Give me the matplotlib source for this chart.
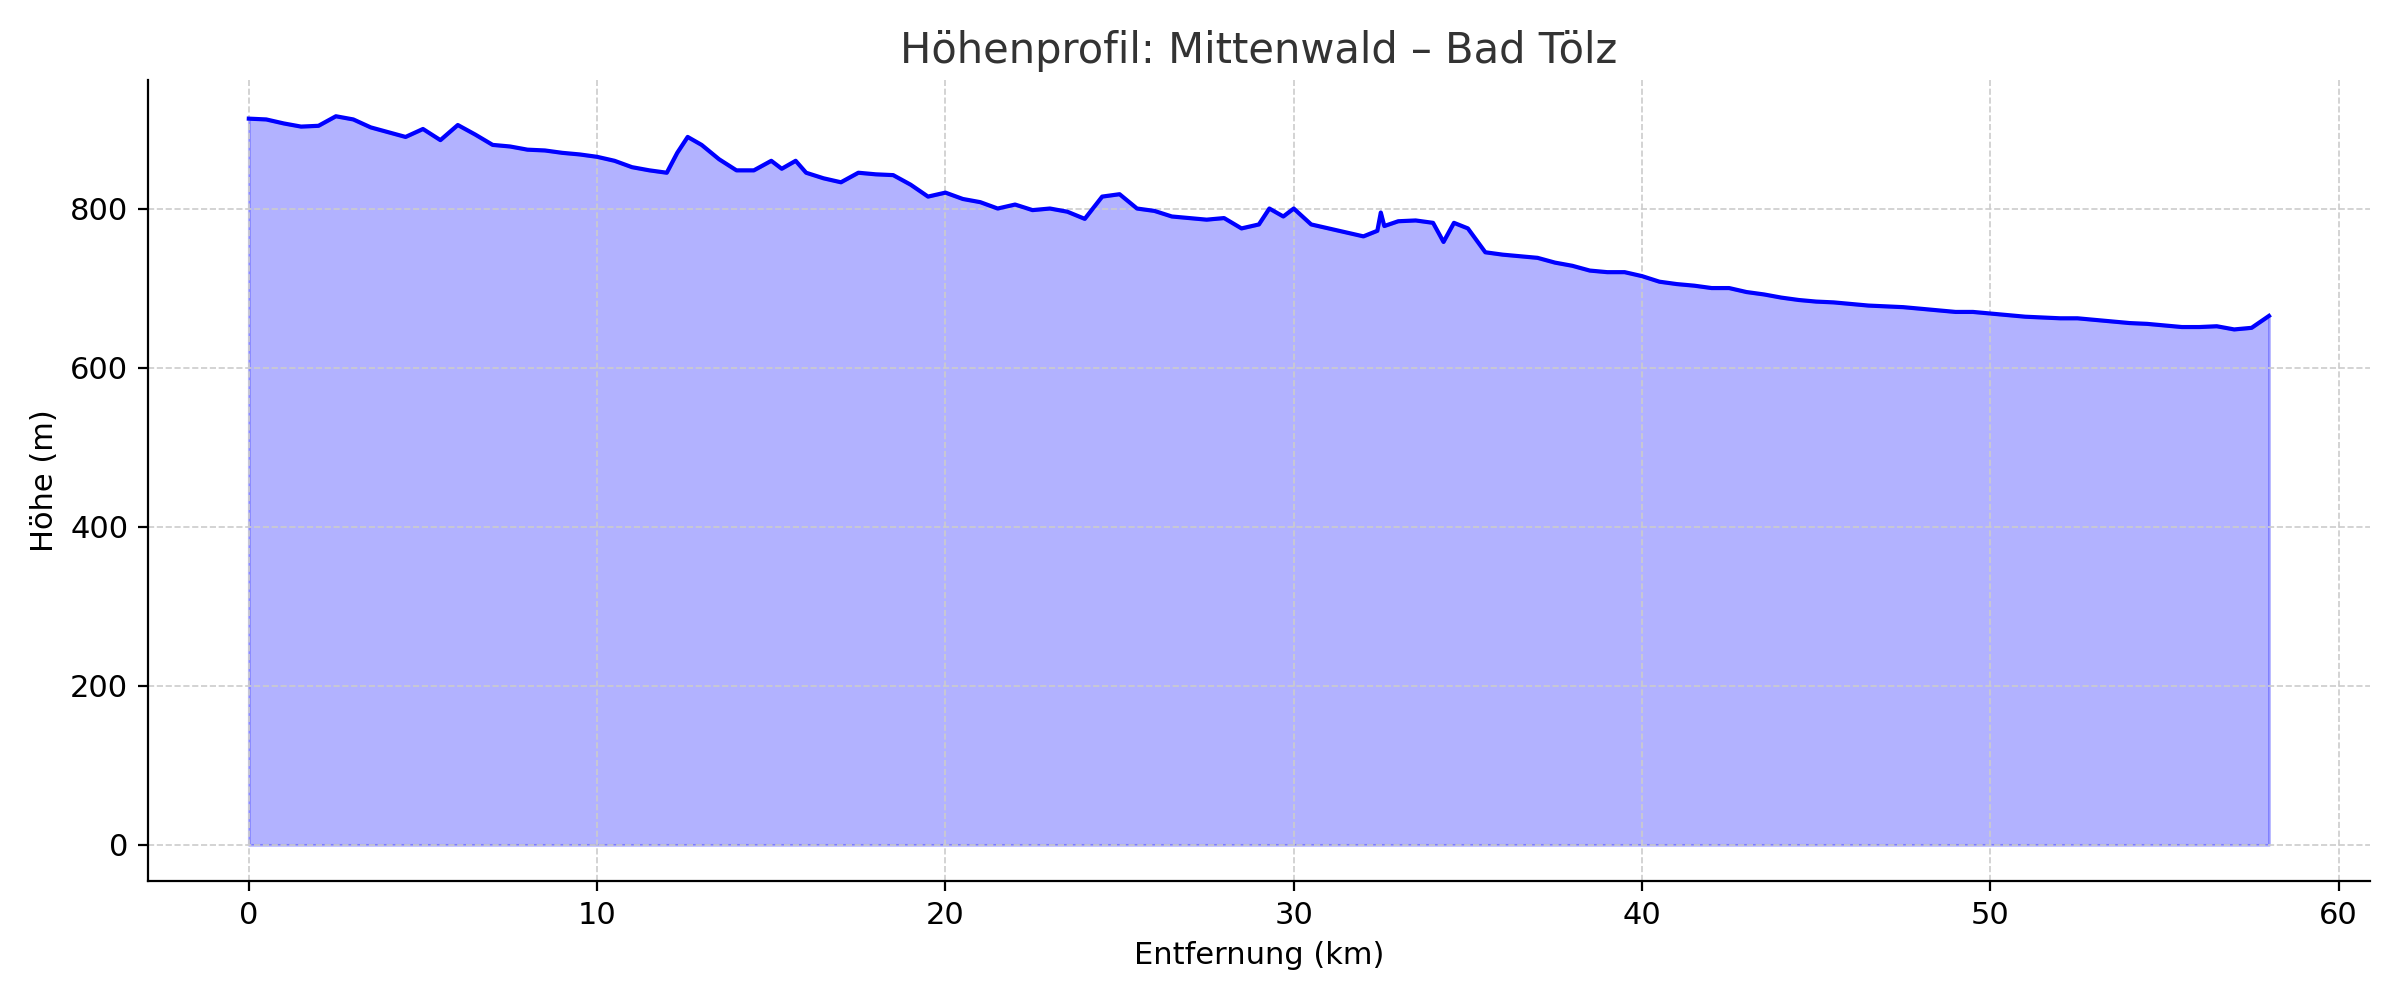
import matplotlib
matplotlib.use("Agg")
import matplotlib.pyplot as plt

dist_km = [0, 0.5, 1, 1.5, 2, 2.5, 3, 3.5, 4, 4.5, 5, 5.5, 6, 6.5, 7, 7.5, 8, 8.5, 9, 9.5,
           10, 10.5, 11, 11.5, 12, 12.3, 12.6, 13, 13.5, 14, 14.5, 15, 15.3, 15.7, 16, 16.5,
           17, 17.5, 18, 18.5, 19, 19.5, 20, 20.5, 21, 21.5, 22, 22.5, 23, 23.5, 24, 24.5,
           25, 25.5, 26, 26.5, 27, 27.5, 28, 28.5, 29, 29.3, 29.7, 30, 30.5, 31, 31.5, 32,
           32.4, 32.5, 32.6, 33, 33.5, 34, 34.3, 34.6, 35, 35.5, 36, 36.5, 37, 37.5, 38, 38.5,
           39, 39.5, 40, 40.5, 41, 41.5, 42, 42.5, 43, 43.5, 44, 44.5, 45, 45.5, 46, 46.5,
           47, 47.5, 48, 48.5, 49, 49.5, 50, 50.5, 51, 51.5, 52, 52.5, 53, 53.5, 54, 54.5,
           55, 55.5, 56, 56.5, 57, 57.5, 58]
elev_m = [913, 912, 907, 903, 904, 916, 912, 902, 896, 890, 900, 886, 905, 893, 880, 878, 874, 873, 870, 868,
          865, 860, 852, 848, 845, 870, 890, 880, 862, 848, 848, 860, 850, 860, 845, 838,
          833, 845, 843, 842, 830, 815, 820, 812, 808, 800, 805, 798, 800, 796, 787, 815,
          818, 800, 797, 790, 788, 786, 788, 775, 780, 800, 790, 800, 780, 775, 770, 765,
          772, 795, 778, 784, 785, 782, 758, 782, 775, 745, 742, 740, 738, 732, 728, 722,
          720, 720, 715, 708, 705, 703, 700, 700, 695, 692, 688, 685, 683, 682, 680, 678,
          677, 676, 674, 672, 670, 670, 668, 666, 664, 663, 662, 662, 660, 658, 656, 655,
          653, 651, 651, 652, 648, 650, 665]

fig, ax = plt.subplots(figsize=(12, 5), dpi=200)
ax.plot(dist_km, elev_m, color="blue", linewidth=1.5)
ax.fill_between(dist_km, elev_m, color="blue", alpha=0.3)
ax.set_title("Höhenprofil: Mittenwald – Bad Tölz", fontsize=15, color="#333333")
ax.set_xlabel("Entfernung (km)", fontsize=11)
ax.set_ylabel("Höhe (m)", fontsize=11)
ax.tick_params(labelsize=11)
ax.grid(True, linestyle="--", linewidth=0.6, color="#cccccc")
ax.spines["top"].set_visible(False)
ax.spines["right"].set_visible(False)
ax.set_xlim(-2.9, 60.9)
ax.set_ylim(-46, 962)
fig.tight_layout()
fig.savefig("out.png")
